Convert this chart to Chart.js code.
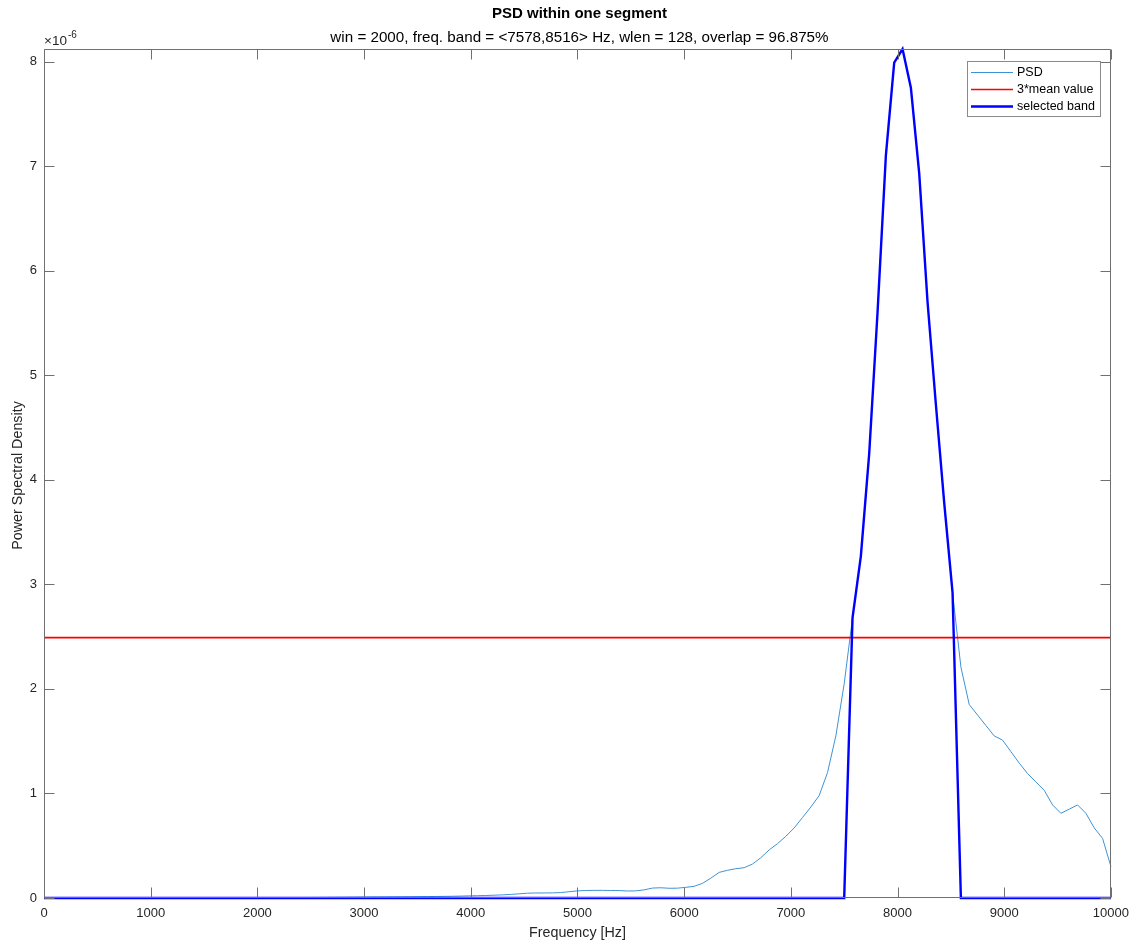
<!DOCTYPE html>
<html>
<head>
<meta charset="utf-8">
<script src="https://cdn.jsdelivr.net/npm/chart.js@4.4.1/dist/chart.umd.min.js"></script>
<style>
  html, body { margin: 0; padding: 0; background: #ffffff; }
  #wrap { width: 1137px; height: 944px; }
</style>
</head>
<body>
<div id="wrap"><canvas id="c" width="1137" height="944"></canvas></div>
<script>
// ---------------- data (PSD values in units of 1e-6) ----------------
const nfftPoints = 129;           // frequency bins 0 .. 10000 Hz
const binWidth = 78.125;          // Hz per bin
const freqs = Array.from({ length: nfftPoints }, (_, k) => k * binWidth);

const psd = [
  0.0008, 0.0009, 0.0008, 0.0007, 0.0007, 0.0008, 0.0009, 0.0010, 0.0010, 0.0011,
  0.0012, 0.0012, 0.0013, 0.0014, 0.0015, 0.0016, 0.0017, 0.0018, 0.0019, 0.0020,
  0.0021, 0.0022, 0.0024, 0.0025, 0.0027, 0.0029, 0.0031, 0.0033, 0.0036, 0.0039,
  0.0042, 0.0046, 0.0050, 0.0055, 0.0060, 0.0066, 0.0072, 0.0080, 0.0088, 0.0095,
  0.0100, 0.0105, 0.0110, 0.0115, 0.0120, 0.0128, 0.0136, 0.0145, 0.0155, 0.0168,
  0.0185, 0.0205, 0.0220, 0.0240, 0.0270, 0.0300, 0.0340, 0.0400, 0.0460, 0.0480,
  0.0480, 0.0490, 0.0520, 0.0600, 0.0680, 0.0720, 0.0730, 0.0730, 0.0720, 0.0710,
  0.0670, 0.0680, 0.0780, 0.0950, 0.0980, 0.0930, 0.0940, 0.1020, 0.1120, 0.1400,
  0.190, 0.245, 0.265, 0.280, 0.290, 0.325, 0.385, 0.460, 0.520, 0.590,
  0.67, 0.77, 0.87, 0.98, 1.20, 1.55, 2.05,
  2.68, 3.27, 4.25, 5.60, 7.10, 7.99, 8.12, 7.75, 6.93, 5.70, 4.72, 3.78, 2.92,
  2.21, 1.85, 1.75, 1.65, 1.55, 1.51, 1.40, 1.29, 1.19, 1.11,
  1.03, 0.89, 0.81, 0.85, 0.89, 0.81, 0.67, 0.57, 0.30
];

const threeMeanValue = 2.49;          // 3*mean value line (1e-6)
const bandLow = 7578, bandHigh = 8516; // selected band limits, Hz

const xTicks = [0, 1000, 2000, 3000, 4000, 5000, 6000, 7000, 8000, 9000, 10000];
const yTicks = [0, 1, 2, 3, 4, 5, 6, 7, 8];

const titleText = 'PSD within one segment';
const subtitleText = 'win = 2000, freq. band = <7578,8516> Hz, wlen = 128, overlap = 96.875%';
const xLabel = 'Frequency [Hz]';
const yLabel = 'Power Spectral Density';
const legendLabels = ['PSD', '3*mean value', 'selected band'];

// ---------------- derived series ----------------
const psdPoints = freqs.map((f, i) => ({ x: f, y: psd[i] }));
const bandPoints = freqs.map((f, i) => ({ x: f, y: (f >= bandLow - 1 && f <= bandHigh + 1) ? psd[i] : 0 }));
const meanPoints = [{ x: freqs[0], y: threeMeanValue }, { x: freqs[freqs.length - 1], y: threeMeanValue }];
const yMax = Math.max(...psd);

const FONT = '"Liberation Sans", Arial, Helvetica, sans-serif';
const TXT = '#262626';
const COL_PSD = '#3f93d4';
const COL_MEAN = '#ff0000';
const COL_BAND = '#0000ff';

const decor = {
  id: 'decor',
  afterDraw(chart) {
    const { ctx, chartArea: a, scales } = chart;
    const xs = scales.x, ys = scales.y;
    ctx.save();
    // box
    ctx.strokeStyle = '#707070';
    ctx.lineWidth = 1;
    const L = Math.round(a.left) + 0.5, R = Math.round(a.right) - 0.5;
    const T = Math.round(a.top) + 0.5, B = Math.round(a.bottom) - 0.5;
    ctx.beginPath();
    ctx.moveTo(L, T); ctx.lineTo(R, T); ctx.lineTo(R, B); ctx.lineTo(L, B); ctx.closePath();
    ctx.stroke();
    // ticks (inward, all sides)
    const tl = 10;
    ctx.beginPath();
    xTicks.forEach(v => {
      const px = Math.round(xs.getPixelForValue(v)) + 0.5;
      ctx.moveTo(px, B); ctx.lineTo(px, B - tl);
      ctx.moveTo(px, T); ctx.lineTo(px, T + tl);
    });
    yTicks.forEach(v => {
      const py = Math.round(ys.getPixelForValue(v)) + 0.5;
      ctx.moveTo(L, py); ctx.lineTo(L + tl, py);
      ctx.moveTo(R, py); ctx.lineTo(R - tl, py);
    });
    ctx.stroke();

    // titles
    const cx = (a.left + a.right) / 2;
    ctx.fillStyle = '#000000';
    ctx.textAlign = 'center';
    ctx.textBaseline = 'middle';
    ctx.font = 'bold 15px ' + FONT;
    ctx.fillText(titleText, cx + 2, 14);
    ctx.font = '15.2px ' + FONT;
    ctx.fillText(subtitleText, cx + 2, 38);

    // exponent
    ctx.fillStyle = TXT;
    ctx.textAlign = 'left';
    ctx.font = '13.5px ' + FONT;
    ctx.fillText('\u00d710', a.left, 41);
    const w10 = ctx.measureText('\u00d710').width;
    ctx.font = '10px ' + FONT;
    ctx.fillText('-6', a.left + w10 + 1, 35);

    // axis labels
    ctx.font = '14.3px ' + FONT;
    ctx.textAlign = 'center';
    ctx.fillText(xLabel, cx, 933);
    ctx.save();
    ctx.translate(18, (a.top + a.bottom) / 2 + 2);
    ctx.rotate(-Math.PI / 2);
    ctx.fillText(yLabel, 0, 0);
    ctx.restore();

    // legend
    const lx = 967, ly = 61, lw = 133, lh = 55;
    ctx.fillStyle = '#ffffff';
    ctx.fillRect(lx, ly, lw, lh);
    ctx.strokeStyle = '#8a8a8a';
    ctx.lineWidth = 1;
    ctx.strokeRect(lx + 0.5, ly + 0.5, lw, lh);
    const rows = [72.5, 89.5, 106.5];
    const cols = [COL_PSD, COL_MEAN, COL_BAND];
    const widths = [1, 1.6, 2.4];
    ctx.font = '12.5px ' + FONT;
    ctx.textAlign = 'left';
    ctx.textBaseline = 'middle';
    rows.forEach((ry, i) => {
      ctx.strokeStyle = cols[i];
      ctx.lineWidth = widths[i];
      ctx.beginPath();
      ctx.moveTo(971, ry); ctx.lineTo(1013, ry);
      ctx.stroke();
      ctx.fillStyle = '#000000';
      ctx.fillText(legendLabels[i], 1017, ry);
    });
    ctx.restore();
  }
};

new Chart(document.getElementById('c'), {
  type: 'line',
  data: {
    datasets: [
      { label: legendLabels[0], data: psdPoints, borderColor: COL_PSD, borderWidth: 1, pointRadius: 0, tension: 0, order: 3, clip: 3 },
      { label: legendLabels[1], data: meanPoints, borderColor: COL_MEAN, borderWidth: 1.6, pointRadius: 0, tension: 0, order: 2, clip: 3 },
      { label: legendLabels[2], data: bandPoints, borderColor: COL_BAND, borderWidth: 2.4, pointRadius: 0, tension: 0, order: 1, clip: 3 }
    ]
  },
  options: {
    responsive: false,
    animation: false,
    devicePixelRatio: 1,
    layout: { padding: { top: 49, right: 26, left: 0, bottom: 0 } },
    plugins: { legend: { display: false }, tooltip: { enabled: false }, title: { display: false } },
    scales: {
      x: {
        type: 'linear', min: 0, max: 10000,
        afterFit(s) { s.height = 46; },
        grid: { display: false, drawTicks: false },
        border: { display: false },
        ticks: { stepSize: 1000, autoSkip: false, maxRotation: 0, includeBounds: false, padding: 8,
                 color: TXT, font: { family: FONT, size: 13 }, callback: v => String(v) }
      },
      y: {
        type: 'linear', min: 0, max: yMax,
        afterFit(s) { s.width = 44; },
        grid: { display: false, drawTicks: false },
        border: { display: false },
        ticks: { stepSize: 1, autoSkip: false, includeBounds: false, padding: 7,
                 color: TXT, font: { family: FONT, size: 13 }, callback: v => String(v) }
      }
    }
  },
  plugins: [decor]
});
</script>
</body>
</html>
